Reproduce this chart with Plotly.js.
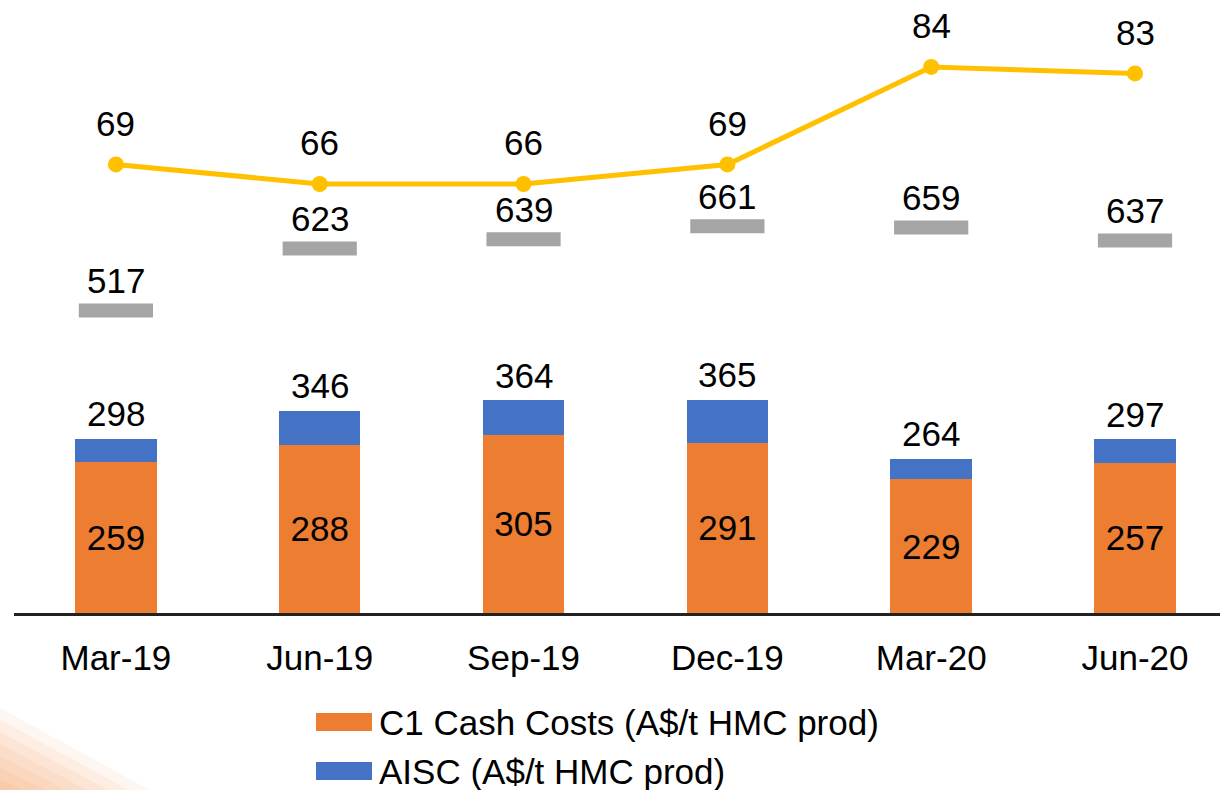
<!DOCTYPE html>
<html>
<head>
<meta charset="utf-8">
<script src="https://cdn.plot.ly/plotly-3.0.1.min.js"></script>
<style>html,body{margin:0;padding:0;background:#fff;}#chart{width:1220px;height:790px;}</style>
</head>
<body>
<div id="chart"></div>
<script>
const categories = ['Mar-19', 'Jun-19', 'Sep-19', 'Dec-19', 'Mar-20', 'Jun-20'];
const c1CashCosts = [259, 288, 305, 291, 229, 257];
const aiscTotals = [298, 346, 364, 365, 264, 297];
const grayMarkerValues = [517, 623, 639, 661, 659, 637];
const lineValues = [69, 66, 66, 69, 84, 83];
const legendLabels = ['C1 Cash Costs (A$/t HMC prod)', 'AISC (A$/t HMC prod)'];

const FONT = 'Arial, "Liberation Sans", sans-serif';
const FS = 35;
const aiscIncrement = aiscTotals.map((v, i) => v - c1CashCosts[i]);

const data = [
  {type: 'bar', x: categories, y: c1CashCosts, width: 0.4, marker: {color: '#ED7D31'},
   text: c1CashCosts.map(String), textposition: 'inside', insidetextanchor: 'middle', textangle: 0,
   constraintext: 'none', textfont: {family: FONT, size: FS, color: '#000'}, hoverinfo: 'skip'},
  {type: 'bar', x: categories, y: aiscIncrement, width: 0.4, marker: {color: '#4472C4'}, hoverinfo: 'skip'},
  {type: 'scatter', mode: 'markers', x: categories, y: grayMarkerValues, cliponaxis: false,
   marker: {symbol: 'line-ew', size: 53, color: '#A5A5A5', line: {width: 14, color: '#A5A5A5'}}, hoverinfo: 'skip'},
  {type: 'scatter', mode: 'lines+markers', x: categories, y: lineValues, yaxis: 'y2', cliponaxis: false,
   line: {color: '#FFC000', width: 5}, marker: {size: 16, color: '#FFC000'}, hoverinfo: 'skip'}
];

const annotations = [];
aiscTotals.forEach((v, i) => annotations.push({x: categories[i], y: v, xref: 'x', yref: 'y', text: String(v),
  showarrow: false, yshift: 25, font: {family: FONT, size: FS, color: '#000'}}));
grayMarkerValues.forEach((v, i) => annotations.push({x: categories[i], y: v, xref: 'x', yref: 'y', text: String(v),
  showarrow: false, yshift: 30, font: {family: FONT, size: FS, color: '#000'}}));
lineValues.forEach((v, i) => annotations.push({x: categories[i], y: v, xref: 'x', yref: 'y2', text: String(v),
  showarrow: false, yshift: 41, font: {family: FONT, size: FS, color: '#000'}}));

// pixel -> paper helpers (plot area: x 14..1220, y 0..613)
const PL = 14, PW = 1206, PB = 613, PH = 613;
const px = v => (v - PL) / PW;
const py = v => (PB - v) / PH;

const shapes = [];
// faint decorative stripes in bottom-left corner
for (let k = 0; k < 7; k++) {
  const y0 = 708 + k * 12, x1 = 150 - k * 21;
  shapes.push({type: 'path', xref: 'paper', yref: 'paper', layer: 'below', line: {width: 0},
    fillcolor: 'rgba(238,138,68,0.08)',
    path: `M ${px(0)} ${py(y0)} L ${px(x1)} ${py(790)} L ${px(0)} ${py(790)} Z`});
}
// custom legend
const legendColors = ['#ED7D31', '#4472C4'];
const legendY = [722, 771];
legendLabels.forEach((lab, i) => {
  shapes.push({type: 'rect', xref: 'paper', yref: 'paper', line: {width: 0}, fillcolor: legendColors[i],
    x0: px(316), x1: px(372), y0: py(legendY[i] - 9), y1: py(legendY[i] + 9)});
  annotations.push({xref: 'paper', yref: 'paper', x: px(377), y: py(legendY[i]), xanchor: 'left', yanchor: 'middle',
    text: lab, showarrow: false, font: {family: FONT, size: FS, color: '#000'}});
});

const layout = {
  width: 1220, height: 790,
  margin: {l: 14, r: 0, t: 0, b: 177, pad: 0},
  paper_bgcolor: '#fff', plot_bgcolor: 'rgba(0,0,0,0)',
  barmode: 'stack', showlegend: false,
  font: {family: FONT, size: FS, color: '#000'},
  xaxis: {type: 'category', range: [-0.5, 5.417], showline: true, linecolor: '#222', linewidth: 2.5,
    ticks: '', showgrid: false, zeroline: false, ticklabelstandoff: 12,
    tickfont: {family: FONT, size: FS, color: '#000'}, fixedrange: true},
  yaxis: {range: [0, 1048], visible: false, showgrid: false, zeroline: false, fixedrange: true},
  yaxis2: {range: [0, 94.3], overlaying: 'y', visible: false, showgrid: false, zeroline: false, fixedrange: true},
  annotations: annotations,
  shapes: shapes
};

Plotly.newPlot('chart', data, layout, {staticPlot: true, displayModeBar: false});
</script>
</body>
</html>
